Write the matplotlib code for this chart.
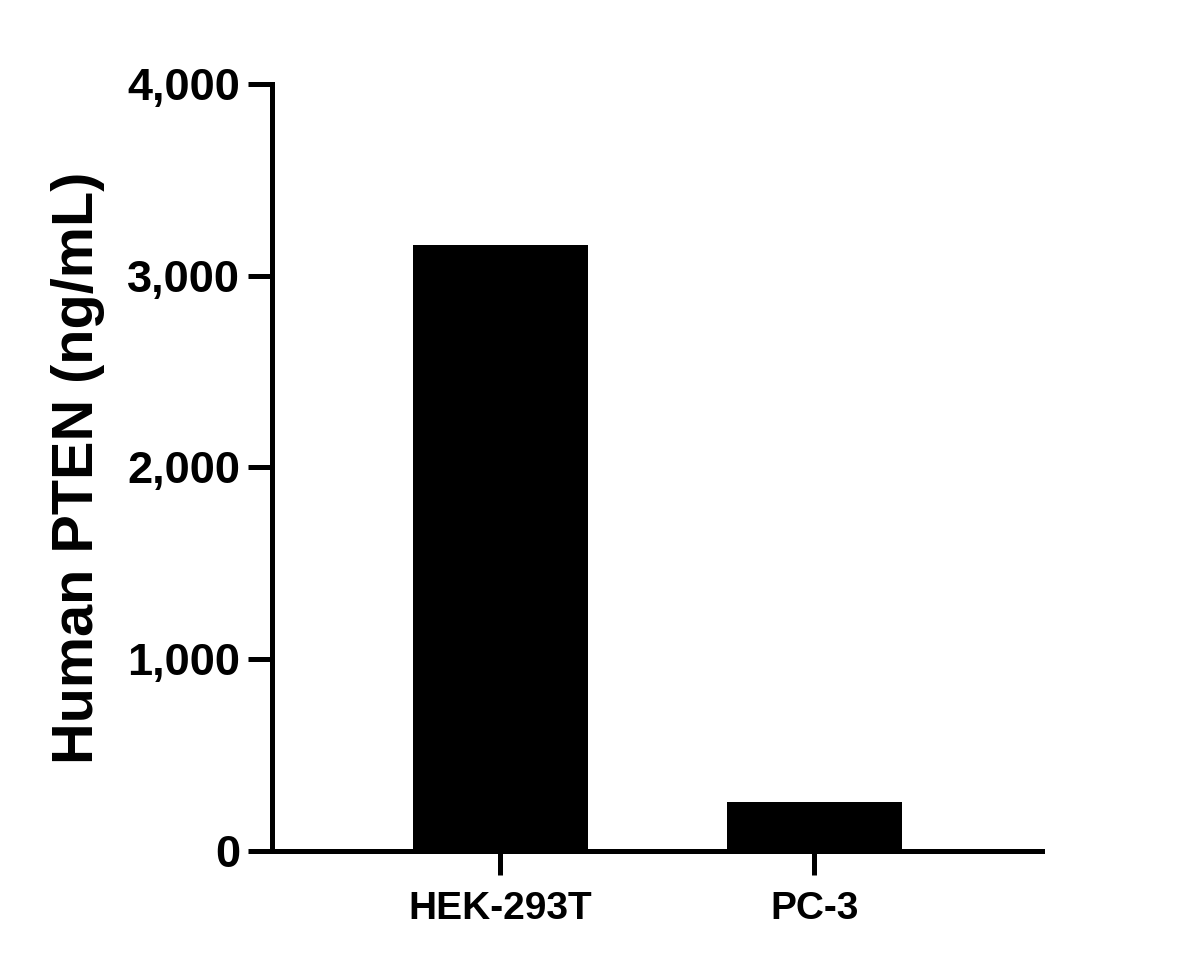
import matplotlib.pyplot as plt
from matplotlib.ticker import FuncFormatter

cell_lines = ['HEK-293T', 'PC-3']
pten = [3160, 255]
y_ticks = [0, 1000, 2000, 3000, 4000]

plt.rcParams['font.family'] = ['Liberation Sans', 'DejaVu Sans']
plt.rcParams['font.weight'] = 'bold'

fig = plt.figure(figsize=(11.79, 9.68), dpi=100)
ax = fig.add_axes([272 / 1179, 1 - 851 / 968, (1042 - 272) / 1179, (851 - 84) / 968])

x = range(len(cell_lines))
ax.bar(x, pten, width=0.557, color='black')

ax.set_xlim(-0.727, 1.725)
ax.set_ylim(0, 4000)
ax.set_yticks(y_ticks)
ax.yaxis.set_major_formatter(FuncFormatter(lambda v, p: f'{int(v):,}'))
ax.set_xticks(list(x))
ax.set_xticklabels(cell_lines)

for s in ['top', 'right']:
    ax.spines[s].set_visible(False)
for s in ['left', 'bottom']:
    ax.spines[s].set_linewidth(3.6)

ax.tick_params(axis='both', width=3.6, length=17, color='black')
ax.tick_params(axis='y', labelsize=32.5, pad=6)
ax.tick_params(axis='x', labelsize=28, pad=12)

ax.set_ylabel('Human PTEN (ng/mL)', fontsize=41.5, fontweight='bold', labelpad=16)

fig.savefig('out.png', dpi=100)
